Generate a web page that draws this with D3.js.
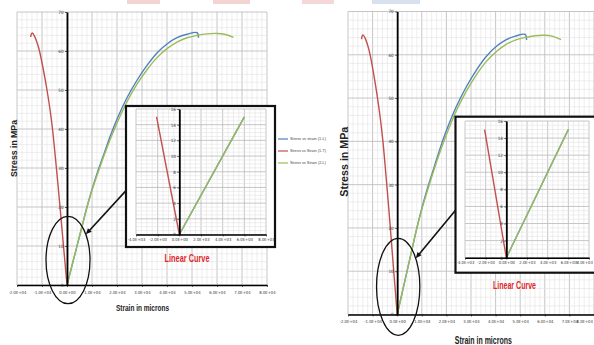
<!DOCTYPE html>
<html>
<head>
<meta charset="utf-8">
<script src="https://cdn.jsdelivr.net/npm/d3@7"></script>
<style>
  body { margin: 0; background: #fff; }
  svg { display: block; font-family: "Liberation Sans", Arial, sans-serif; }
</style>
</head>
<body>
<svg id="chart" width="594" height="345"></svg>
<script>
// ---- data (strain in microns, stress in MPa) ----
const seriesNames = ["Stress vs strain (1-L)", "Stress vs Strain (1-T)", "Stress vs Strain (2-L)"];
const seriesColors = ["#4f81bd", "#c0504d", "#9bbb59"];

const strain1L = [0, 6000, 8000, 10000, 12500, 15000, 17500, 20000, 24000, 28000, 32000, 36000, 40000, 44000, 48000, 52000, 52600];
const stress1L = [0, 15, 20, 24.5, 29.5, 34, 38.5, 42.5, 48, 52.5, 56.3, 59.5, 61.8, 63.4, 64.3, 64.7, 63.4];

const strain1T = [0, -2100, -3500, -5000, -5800, -6800, -8000, -9400, -11000, -11900, -13000, -13900, -14300, -14500];
const stress1T = [0, 15, 25, 35, 40, 45, 50, 55, 60, 62, 63.8, 64.6, 64.3, 63.6];

const strain2L = [0, 6000, 8000, 10000, 12500, 15000, 17500, 20000, 24000, 28000, 32000, 36000, 40000, 44000, 48000, 52000, 56000, 60000, 63000, 66600];
const stress2L = [0, 15, 20, 24.3, 29, 33.5, 37.7, 41.5, 47, 51.5, 55.2, 58.3, 60.6, 62.3, 63.4, 64.0, 64.4, 64.5, 64.3, 63.5];

const strainTicks = [-20000, -10000, 0, 10000, 20000, 30000, 40000, 50000, 60000, 70000, 80000];
const stressTicks = [0, 10, 20, 30, 40, 50, 60, 70];
const insetStrainTicks = [-4000, -2000, 0, 2000, 4000, 6000, 8000];
const insetStressTicks = [0, 2, 4, 6, 8, 10, 12, 14, 16];
const insetMaxStress = 15;

const series = [
  { name: seriesNames[0], color: seriesColors[0], strain: strain1L, stress: stress1L },
  { name: seriesNames[1], color: seriesColors[1], strain: strain1T, stress: stress1T },
  { name: seriesNames[2], color: seriesColors[2], strain: strain2L, stress: stress2L }
];

// the same chart appears twice, at two sizes
const panels = [
  {
    main: { left: 17, right: 267, bottom: 285, top: 12 },
    box: { x: 126, y: 106, w: 149, h: 141 },
    inset: { left: 136, right: 266, bottom: 234.5, top: 109 },
    caption: { x: 187, y: 258, size: 11, len: 45 },
    yTitle: { x: 13.5, y: 148.5, size: 9, len: 57 },
    xTitle: { x: 142.5, y: 307.5, size: 9.5, len: 53 },
    legend: { x: 278, y: 139, gap: 12 }
  },
  {
    main: { left: 348, right: 594, bottom: 314.5, top: 11.5 },
    box: { x: 455.5, y: 116.7, w: 170, h: 156 },
    inset: { left: 465, right: 589, bottom: 257.7, top: 121 },
    caption: { x: 514.5, y: 285, size: 11.5, len: 43 },
    yTitle: { x: 343.7, y: 161.7, size: 10.5, len: 70 },
    xTitle: { x: 483.3, y: 340, size: 10, len: 57 },
    legend: null
  }
];

const W = 594;

const fmtE = v => {
  if (v === 0) return "0.0E+00";
  const e = Math.floor(Math.log10(Math.abs(v)));
  return (v / Math.pow(10, e)).toFixed(1) + "E+" + String(e).padStart(2, "0");
};

const svg = d3.select("#chart");

// faint page remnants along the top edge
[[127, 160, "#f4d3d3"], [213, 250, "#f4d3d3"], [302, 334, "#f4d8d8"], [372, 420, "#d9e0ee"]].forEach(b => {
  svg.append("rect").attr("x", b[0]).attr("y", 0).attr("width", b[1] - b[0]).attr("height", 4).attr("fill", b[2]);
});

const line = (x, y) => d3.line()
  .x(d => x(d[0]))
  .y(d => y(d[1]))
  .curve(d3.curveCatmullRom.alpha(0.5));

function drawGrid(g, x, y, xStep, yStep, xMajor, yMajor) {
  const [x0, x1] = x.domain(), [y0, y1] = y.domain();
  d3.range(x0, x1 + 1e-6, xStep).forEach(v => {
    const major = Math.abs(v / xMajor - Math.round(v / xMajor)) < 1e-6;
    g.append("line").attr("x1", x(v)).attr("x2", x(v)).attr("y1", y(y0)).attr("y2", y(y1))
      .attr("stroke", major ? "#c0c0c0" : "#e2e2e2").attr("stroke-width", major ? 0.9 : 0.6);
  });
  d3.range(y0, y1 + 1e-6, yStep).forEach(v => {
    const major = Math.abs(v / yMajor - Math.round(v / yMajor)) < 1e-6;
    g.append("line").attr("x1", x(x0)).attr("x2", x(x1)).attr("y1", y(v)).attr("y2", y(v))
      .attr("stroke", major ? "#c0c0c0" : "#e2e2e2").attr("stroke-width", major ? 0.9 : 0.6);
  });
}

function styleAxis(a, fontSize, width) {
  a.select(".domain").attr("stroke", "#000").attr("stroke-width", width);
  a.selectAll(".tick line").attr("stroke", "#000").attr("stroke-width", 0.6);
  a.selectAll(".tick text").attr("fill", "#333").attr("font-size", fontSize)
    .attr("font-family", "'DejaVu Sans Condensed', 'Liberation Sans Narrow', Arial, sans-serif");
  // keep labels that would run past the right edge inside the picture
  a.selectAll(".tick text").each(function () {
    const b = this.getBBox();
    const m = this.parentNode.transform.baseVal.consolidate();
    const tx = m ? m.matrix.e : 0;
    const over = tx + b.x + b.width - (W - 0.5);
    if (over > 0) d3.select(this).attr("x", (+d3.select(this).attr("x") || 0) - over);
  });
}

function drawPanel(p) {
  const g = svg.append("g");

  // main chart
  const x = d3.scaleLinear().domain([-20000, 80000]).range([p.main.left, p.main.right]);
  const y = d3.scaleLinear().domain([0, 70]).range([p.main.bottom, p.main.top]);

  drawGrid(g.append("g"), x, y, 2000, 2, 10000, 10);

  series.forEach(s => {
    g.append("path")
      .datum(s.strain.map((v, i) => [v, s.stress[i]]))
      .attr("d", line(x, y))
      .attr("fill", "none").attr("stroke", s.color).attr("stroke-width", 1.4);
  });

  const xAx = g.append("g").attr("transform", `translate(0,${y(0)})`)
    .call(d3.axisBottom(x).tickValues(strainTicks).tickFormat(fmtE).tickSize(2).tickSizeOuter(0).tickPadding(4));
  styleAxis(xAx, 4.2, 1.4);
  const yAx = g.append("g").attr("transform", `translate(${x(0)},0)`)
    .call(d3.axisLeft(y).tickValues(stressTicks).tickSize(2).tickSizeOuter(0).tickPadding(1.5));
  styleAxis(yAx, 4.5, 1.8);

  // titles
  g.append("text")
    .attr("transform", `translate(${p.yTitle.x},${p.yTitle.y}) rotate(-90)`)
    .attr("text-anchor", "middle").attr("dominant-baseline", "central")
    .attr("font-weight", "bold").attr("font-size", p.yTitle.size).attr("fill", "#222")
    .attr("textLength", p.yTitle.len).attr("lengthAdjust", "spacingAndGlyphs")
    .text("Stress in MPa");
  g.append("text")
    .attr("x", p.xTitle.x).attr("y", p.xTitle.y)
    .attr("text-anchor", "middle").attr("dominant-baseline", "central")
    .attr("font-weight", "bold").attr("font-size", p.xTitle.size).attr("fill", "#222")
    .attr("textLength", p.xTitle.len).attr("lengthAdjust", "spacingAndGlyphs")
    .text("Strain in microns");

  // ellipse around the origin and arrow to the zoomed view
  const ell = { cx: 400, cy: 6.4, rx: 8800, ry: 11.2 };
  const ecx = x(ell.cx), ecy = y(ell.cy);
  const erx = x(ell.cx + ell.rx) - ecx, ery = ecy - y(ell.cy + ell.ry);
  g.append("ellipse").attr("cx", ecx).attr("cy", ecy).attr("rx", erx).attr("ry", ery)
    .attr("fill", "none").attr("stroke", "#111").attr("stroke-width", 1.3);

  const ang = -36 * Math.PI / 180;
  const ax = ecx + erx * Math.cos(ang), ay = ecy + ery * Math.sin(ang);
  const bx = p.box.x, by = p.box.y + p.box.h * 0.6;
  const dx = ax - bx, dy = ay - by, len = Math.hypot(dx, dy);
  const ux = dx / len, uy = dy / len;
  g.append("line").attr("x1", bx).attr("y1", by).attr("x2", ax - ux * 4).attr("y2", ay - uy * 4)
    .attr("stroke", "#111").attr("stroke-width", 1.6);
  const hw = 2.6;
  g.append("path")
    .attr("d", `M${ax},${ay} L${ax - ux * 6 - uy * hw},${ay - uy * 6 + ux * hw} L${ax - ux * 6 + uy * hw},${ay - uy * 6 - ux * hw} Z`)
    .attr("fill", "#111");

  // inset box
  g.append("rect").attr("x", p.box.x).attr("y", p.box.y).attr("width", p.box.w).attr("height", p.box.h)
    .attr("fill", "#fff").attr("stroke", "#111").attr("stroke-width", 2.2);

  const xi = d3.scaleLinear().domain([-4000, 8000]).range([p.inset.left, p.inset.right]);
  const yi = d3.scaleLinear().domain([0, 16]).range([p.inset.bottom, p.inset.top]);
  drawGrid(g.append("g"), xi, yi, 500, 0.5, 2000, 2);

  series.forEach(s => {
    const pts = s.strain.map((v, i) => [v, s.stress[i]]).filter(d => d[1] <= insetMaxStress);
    g.append("path").datum(pts).attr("d", line(xi, yi))
      .attr("fill", "none").attr("stroke", s.color).attr("stroke-width", 1.4);
  });

  const xiAx = g.append("g").attr("transform", `translate(0,${yi(0)})`)
    .call(d3.axisBottom(xi).tickValues(insetStrainTicks).tickFormat(fmtE).tickSize(2).tickSizeOuter(0).tickPadding(1.5));
  styleAxis(xiAx, 4.2, 1.6);
  const yiAx = g.append("g").attr("transform", `translate(${xi(0)},0)`)
    .call(d3.axisLeft(yi).tickValues(insetStressTicks).tickSize(2).tickSizeOuter(0).tickPadding(1.5));
  styleAxis(yiAx, 4.5, 1.8);

  g.append("text")
    .attr("x", p.caption.x).attr("y", p.caption.y)
    .attr("text-anchor", "middle").attr("dominant-baseline", "central")
    .attr("font-weight", "bold").attr("font-size", p.caption.size).attr("fill", "#e0262b")
    .attr("textLength", p.caption.len).attr("lengthAdjust", "spacingAndGlyphs")
    .text("Linear Curve");

  // legend
  if (p.legend) {
    series.forEach((s, i) => {
      const ly = p.legend.y + i * p.legend.gap;
      g.append("line").attr("x1", p.legend.x).attr("x2", p.legend.x + 10).attr("y1", ly).attr("y2", ly)
        .attr("stroke", s.color).attr("stroke-width", 1.2);
      g.append("text").attr("x", p.legend.x + 12).attr("y", ly).attr("dominant-baseline", "central")
        .attr("font-size", 3.8).attr("fill", "#444")
        .attr("textLength", 36).attr("lengthAdjust", "spacingAndGlyphs")
        .text(s.name);
    });
  }
}

panels.forEach(drawPanel);
</script>
</body>
</html>
